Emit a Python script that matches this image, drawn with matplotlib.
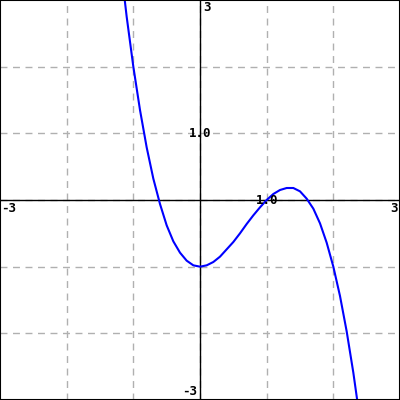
import matplotlib
matplotlib.use("Agg")
import matplotlib.pyplot as plt

# curve points
x_vals = [-1.2, -1.1, -1.0, -0.9, -0.8, -0.7, -0.6, -0.5, -0.4, -0.3, -0.2, -0.1,
          0.0, 0.1, 0.2, 0.3, 0.4, 0.5, 0.6, 0.7, 0.8, 0.9, 1.0, 1.1, 1.2, 1.3,
          1.4, 1.5, 1.6, 1.7, 1.8, 1.9, 2.0, 2.1, 2.2, 2.3, 2.4]
y_vals = [3.61, 2.75, 2.0, 1.35, 0.79, 0.32, -0.06, -0.38, -0.62, -0.79, -0.91, -0.98,
          -1.0, -0.98, -0.93, -0.85, -0.74, -0.63, -0.50, -0.36, -0.23, -0.11, 0.0, 0.09,
          0.15, 0.18, 0.18, 0.13, 0.02, -0.13, -0.35, -0.64, -1.0, -1.44, -1.97, -2.59, -3.30]

grid_ticks = [-2, -1, 0, 1, 2]
x_range = (-3, 3)
y_range = (-3, 3)

fig = plt.figure(figsize=(4, 4), dpi=100)
ax = fig.add_axes([0, 0, 1, 1])
ax.set_xlim(*x_range)
ax.set_ylim(*y_range)

ax.set_xticks(grid_ticks)
ax.set_yticks(grid_ticks)
ax.tick_params(length=0, labelbottom=False, labelleft=False)
ax.grid(True, color="#b0b0b0", linestyle=(0, (5, 4)), linewidth=1)

for s in ax.spines.values():
    s.set_color("black")
    s.set_linewidth(1.5)

ax.axhline(0, color="black", linewidth=1)
ax.axvline(0, color="black", linewidth=1)

ax.plot(x_vals, y_vals, color="#0000ff", linewidth=1.5)

font = dict(family="DejaVu Sans Mono", fontweight="bold", fontsize=9)
ax.text(0.05, 2.99, "3", ha="left", va="top", **font)
ax.text(-0.05, -2.97, "-3", ha="right", va="bottom", **font)
ax.text(-2.98, -0.03, "-3", ha="left", va="top", **font)
ax.text(2.97, -0.03, "3", ha="right", va="top", **font)
ax.text(0, 1, "1.0", ha="center", va="center", **font)
ax.text(1, 0, "1.0", ha="center", va="center", **font)

fig.savefig("out.png", dpi=100)
